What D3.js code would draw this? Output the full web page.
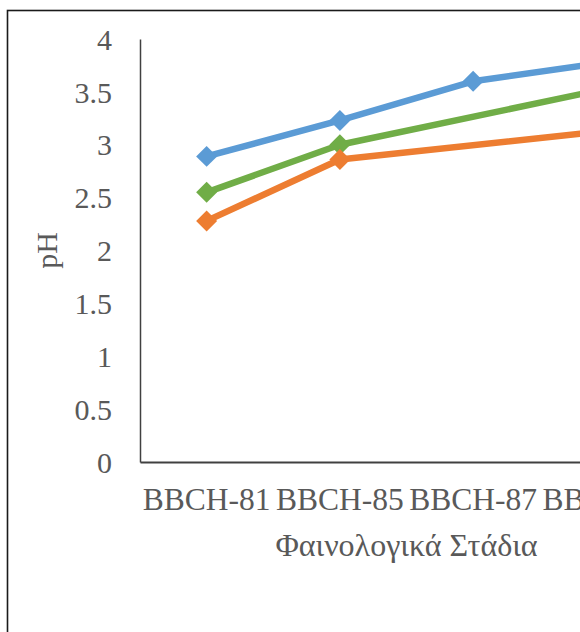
<!DOCTYPE html>
<html>
<head>
<meta charset="utf-8">
<script src="https://cdn.jsdelivr.net/npm/d3@7"></script>
<style>
  html, body { margin: 0; padding: 0; background: #fff; overflow: hidden; }
  svg { display: block; }
  text { font-family: "Liberation Serif", "Times New Roman", serif; fill: #595959; }
</style>
</head>
<body>
<svg id="chart" width="580" height="632"></svg>
<script>
// Phenological stages on the category axis
const stages = ["BBCH-81", "BBCH-85", "BBCH-87", "BBCH-89"];

// pH per series (null = no measurement at that stage)
const seriesBlue   = [2.89, 3.23, 3.60, 3.78];
const seriesOrange = [2.28, 2.86, null, 3.13];
const seriesGreen  = [2.55, 3.00, null, 3.53];

const yTicks = [0, 0.5, 1, 1.5, 2, 2.5, 3, 3.5, 4];
const yTickLabels = ["0", "0.5", "1", "1.5", "2", "2.5", "3", "3.5", "4"];

const series = [
  { values: seriesBlue,   color: "#5B9BD5" },
  { values: seriesGreen,  color: "#70AD47" },
  { values: seriesOrange, color: "#ED7D31" }
];

const svg = d3.select("#chart");

// chart area frame
svg.append("rect")
  .attr("x", 7.5).attr("y", 10.5)
  .attr("width", 800).attr("height", 800)
  .attr("fill", "#fff")
  .attr("stroke", "#1a1a1a")
  .attr("stroke-width", 1.6);

const plot = { left: 140, top: 39, bottom: 462, right: 673 };

const x = d3.scaleBand()
  .domain(stages)
  .range([plot.left, plot.right])
  .paddingInner(0).paddingOuter(0);

const y = d3.scaleLinear()
  .domain([0, 4])
  .range([plot.bottom, plot.top]);

// y axis
const yAxis = svg.append("g")
  .attr("transform", `translate(${plot.left},0)`)
  .call(d3.axisLeft(y).tickValues(yTicks)
    .tickFormat((d, i) => yTickLabels[i])
    .tickSize(0).tickPadding(28));
yAxis.select(".domain").attr("stroke", "#404040").attr("stroke-width", 1.5);
yAxis.selectAll("text")
  .style("font-size", "30px")
  .attr("fill", "#595959")
  .attr("dy", "0.34em");

// x axis
const xAxis = svg.append("g")
  .attr("transform", `translate(0,${plot.bottom})`)
  .call(d3.axisBottom(x).tickSize(0).tickPadding(26));
xAxis.select(".domain").attr("stroke", "#404040").attr("stroke-width", 1.8);
xAxis.selectAll("text")
  .style("font-size", "31.5px")
  .attr("fill", "#595959")
  .attr("dy", "0.71em");

// axis titles
svg.append("text")
  .attr("x", (plot.left + plot.right) / 2)
  .attr("y", 556)
  .attr("text-anchor", "middle")
  .style("font-size", "32px")
  .text("Φαινολογικά Στάδια");

svg.append("text")
  .attr("transform", `translate(57,${(plot.top + plot.bottom) / 2}) rotate(-90)`)
  .attr("text-anchor", "middle")
  .style("font-size", "30px")
  .text("pH");

// series lines and diamond markers
const cx = d => x(d) + x.bandwidth() / 2;
const line = d3.line()
  .x(d => cx(d.stage))
  .y(d => y(d.value));

series.forEach(s => {
  const pts = stages.map((stage, i) => ({ stage, value: s.values[i] }))
    .filter(p => p.value !== null);

  svg.append("path")
    .datum(pts)
    .attr("d", line)
    .attr("fill", "none")
    .attr("stroke", s.color)
    .attr("stroke-width", 6.5)
    .attr("stroke-linejoin", "round")
    .attr("stroke-linecap", "round");

  svg.selectAll(null)
    .data(pts)
    .enter().append("path")
    .attr("d", d3.symbol().type(d3.symbolSquare).size(220))
    .attr("transform", d => `translate(${cx(d.stage)},${y(d.value)}) rotate(45)`)
    .attr("fill", s.color);
});
</script>
</body>
</html>
